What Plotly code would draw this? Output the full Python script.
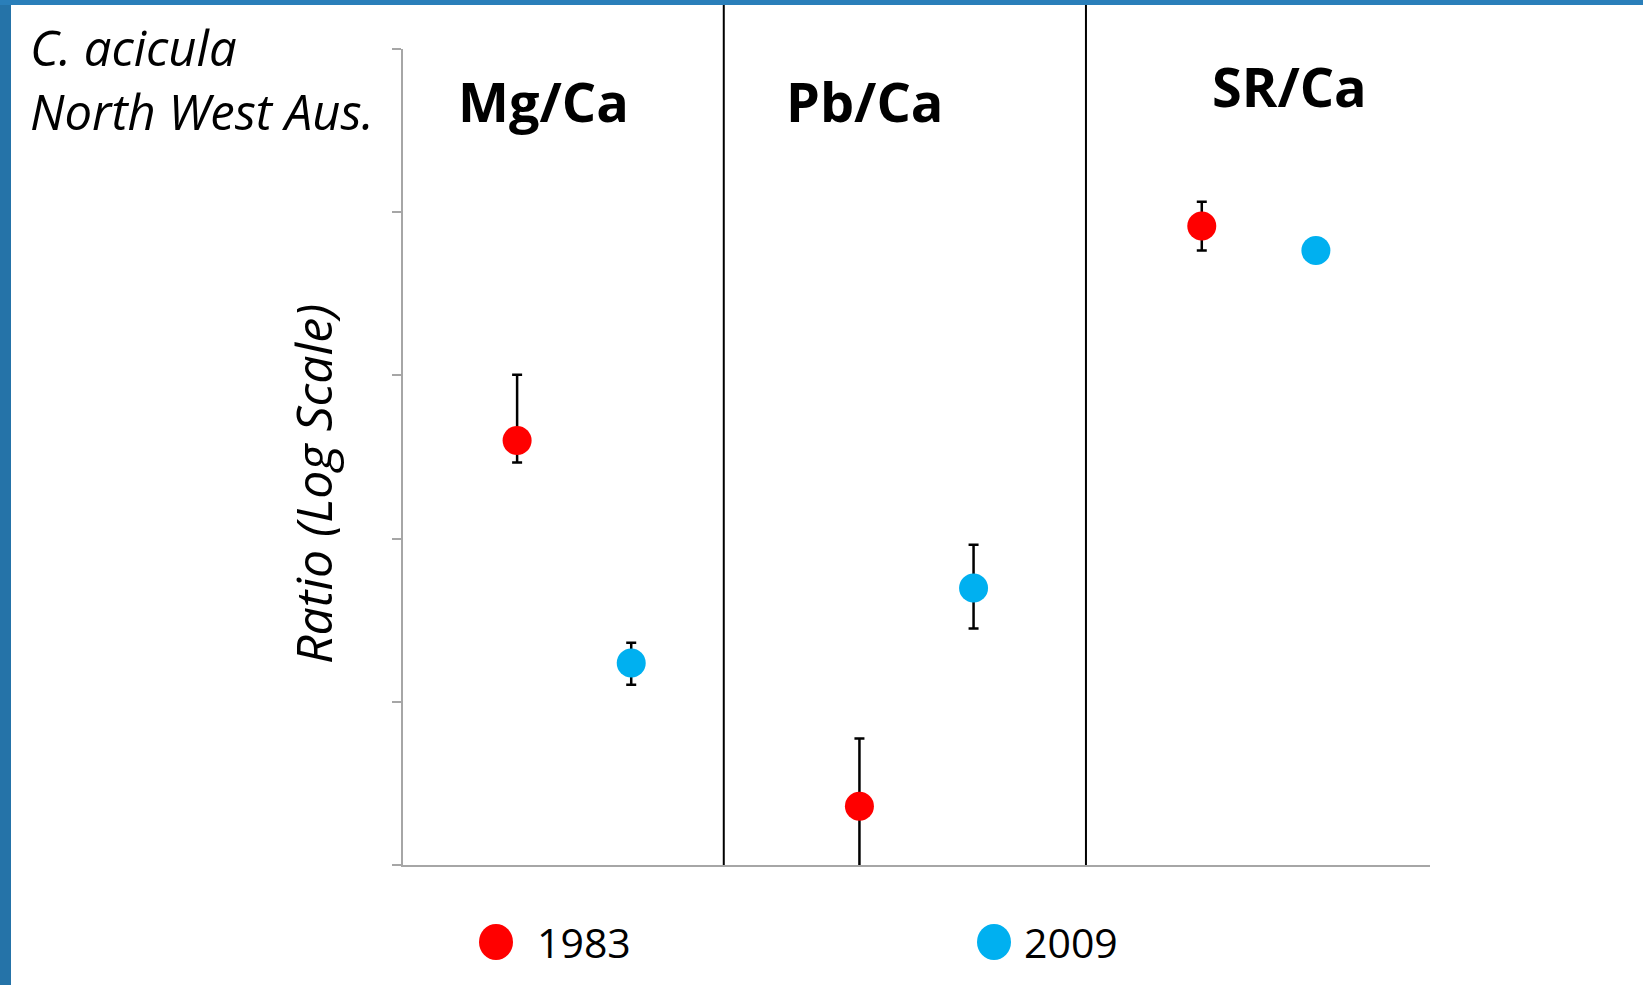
import plotly.graph_objects as go

# ---- data -------------------------------------------------------------
ratios = ["Mg/Ca", "Pb/Ca", "SR/Ca"]
years = ["1983", "2009"]
colors = ["#FF0000", "#00B0F0"]

# mean ratio and the top / bottom of its error bar (log-scale axis)
mean_1983 = [3.99e-4, 2.29e-6, 8.24e-3]
upper_1983 = [1.01e-3, 5.96e-6, 1.16e-2]
lower_1983 = [2.93e-4, 0.85e-6, 5.82e-3]

mean_2009 = [1.73e-5, 4.98e-5, 5.82e-3]
upper_2009 = [2.30e-5, 9.18e-5, 5.82e-3]
lower_2009 = [1.27e-5, 2.81e-5, 5.82e-3]

# position of each year inside its ratio group (group i spans i..i+1)
year_offsets = [1 / 3, 2 / 3]
panel_dividers = [0.937, 1.995]
y_decades = [1e-6, 1e-5, 1e-4, 1e-3, 1e-2, 1e-1]

# ---- canvas geometry --------------------------------------------------
W, H = 1643, 985
L, R, T, B = 403, 213, 49, 120
PW, PH = W - L - R, H - T - B


def px_x(px):
    return (px - L) / PW


def px_y(py):
    return (H - B - py) / PH


FONT = "Open Sans"

fig = go.Figure()

series = [
    (mean_1983, upper_1983, lower_1983),
    (mean_2009, upper_2009, lower_2009),
]
for k, (mean, upper, lower) in enumerate(series):
    xs = [i + year_offsets[k] for i in range(len(ratios))]
    fig.add_trace(
        go.Scatter(
            x=xs,
            y=mean,
            mode="markers",
            name=years[k],
            showlegend=False,
            marker=dict(size=29, color=colors[k], line=dict(width=0)),
            error_y=dict(
                type="data",
                symmetric=False,
                array=[u - m for u, m in zip(upper, mean)],
                arrayminus=[m - l for m, l in zip(mean, lower)],
                color="black",
                thickness=2.5,
                width=5,
            ),
        )
    )

shapes = []
# slide frame: blue band on the left and on top
shapes.append(dict(type="rect", xref="paper", yref="paper",
                   x0=px_x(0), x1=px_x(11), y0=px_y(H), y1=px_y(0),
                   fillcolor="#2573A8", line=dict(width=0), layer="below"))
shapes.append(dict(type="rect", xref="paper", yref="paper",
                   x0=px_x(0), x1=px_x(W), y0=px_y(5), y1=px_y(0),
                   fillcolor="#2A7FBA", line=dict(width=0), layer="below"))
# vertical dividers between the ratio panels
for xd in panel_dividers:
    shapes.append(dict(type="line", xref="x", yref="paper",
                       x0=xd, x1=xd, y0=0, y1=px_y(5),
                       line=dict(color="black", width=2)))

annotations = []
# species / locality label
annotations.append(dict(
    text="<i>C. acicula</i><br><i>North West Aus.</i>",
    xref="paper", yref="paper", x=px_x(28), y=px_y(79),
    xanchor="left", yanchor="middle", align="left", showarrow=False,
    font=dict(family=FONT, size=49, color="black")))

# panel headings
heading_pos = [(543, 101), (864, 101), (1289, 86)]
for name, (hx, hy) in zip(ratios, heading_pos):
    annotations.append(dict(
        text=f"<b>{name}</b>", xref="paper", yref="paper",
        x=px_x(hx), y=px_y(hy), xanchor="center", yanchor="middle",
        showarrow=False, font=dict(family=FONT, size=54, color="black")))

# y-axis label
annotations.append(dict(
    text="<i>Ratio (Log Scale)</i>", xref="paper", yref="paper",
    x=px_x(313), y=px_y(484), xanchor="center", yanchor="middle",
    textangle=-90, showarrow=False,
    font=dict(family=FONT, size=50, color="black")))

# legend: swatch + year label
legend_dots = [496, 994]
legend_text = [535, 1022]
for k in range(len(years)):
    cx, cy = legend_dots[k], 942
    shapes.append(dict(type="circle", xref="paper", yref="paper",
                       x0=px_x(cx - 17), x1=px_x(cx + 17),
                       y0=px_y(cy + 18), y1=px_y(cy - 18),
                       fillcolor=colors[k], line=dict(width=0)))
    annotations.append(dict(
        text=years[k], xref="paper", yref="paper",
        x=px_x(legend_text[k]), y=px_y(cy), xanchor="left", yanchor="middle",
        showarrow=False, font=dict(family=FONT, size=41, color="black")))

fig.update_layout(
    width=W, height=H,
    margin=dict(l=L, r=R, t=T, b=B, pad=0),
    paper_bgcolor="white", plot_bgcolor="white",
    shapes=shapes, annotations=annotations,
    xaxis=dict(range=[0, len(ratios)], showgrid=False, zeroline=False,
               showticklabels=False, ticks="", showline=True,
               linecolor="#A6A6A6", linewidth=2),
    yaxis=dict(type="log", range=[-6, -1], tickvals=y_decades,
               showgrid=False, zeroline=False, showticklabels=False,
               ticks="outside", ticklen=9, tickwidth=2, tickcolor="#A6A6A6",
               showline=True, linecolor="#A6A6A6", linewidth=2),
)

fig.write_html("out.html")
